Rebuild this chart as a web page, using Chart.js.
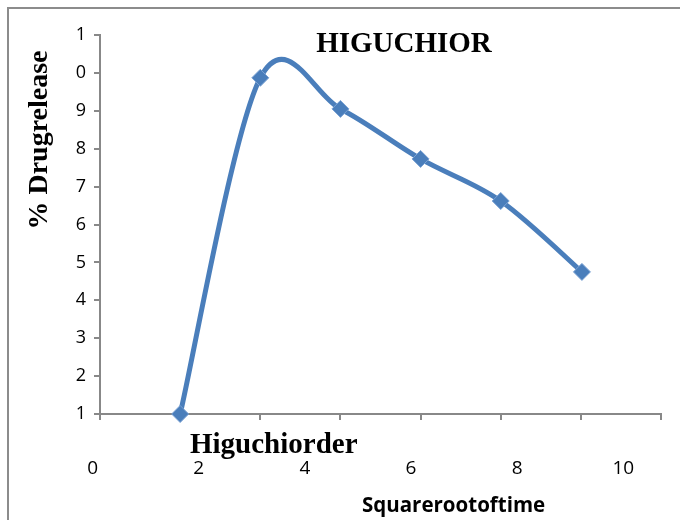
<!DOCTYPE html>
<html>
<head>
<meta charset="utf-8">
<script src="https://cdn.jsdelivr.net/npm/chart.js@4/dist/chart.umd.min.js"></script>
<style>
  html, body { margin: 0; padding: 0; background: #fff; }
</style>
</head>
<body>
<canvas id="chartCanvas" width="680" height="520"></canvas>
<script>
// sqrt(time) vs % drug release
const xValues = [1.65, 3.16, 4.67, 6.18, 7.69, 9.22];
const yValues = [1.0, 9.87, 9.05, 7.73, 6.62, 4.75];
const xTickLabels = [0, 2, 4, 6, 8, 10];
const yTickLabels = ['1', '2', '3', '4', '5', '6', '7', '8', '9', '0', '1'];

const titleText = 'HIGUCHIOR';
const seriesText = 'Higuchiorder';
const xTitle = 'Squarerootoftime';
const yTitle = '% Drugrelease';

const axisGray = '#888888';
const lineBlue = '#4A7EBB';

// smoothing like a spreadsheet "smoothed line": control points at 1/6 of the neighbour chord
const smoothLine = {
    id: 'smoothLine',
    beforeDatasetDraw(chart, args) {
        const pts = args.meta.data;
        args.meta.dataset.updateControlPoints(chart.chartArea, 'x');
        pts.forEach((p, i) => {
            const prev = pts[Math.max(i - 1, 0)];
            const next = pts[Math.min(i + 1, pts.length - 1)];
            const dx = (next.x - prev.x) / 6;
            const dy = (next.y - prev.y) / 6;
            p.cp1x = p.x - dx;
            p.cp1y = p.y - dy;
            p.cp2x = p.x + dx;
            p.cp2y = p.y + dy;
        });
    }
};

const chartText = {
    id: 'chartText',
    beforeDraw(chart) {
        const ctx = chart.ctx;
        ctx.save();
        ctx.fillStyle = '#fff';
        ctx.fillRect(0, 0, chart.width, chart.height);
        // outer frame
        ctx.strokeStyle = '#8c8c8c';
        ctx.lineWidth = 2;
        ctx.beginPath();
        ctx.moveTo(8, chart.height);
        ctx.lineTo(8, 8);
        ctx.lineTo(chart.width, 8);
        ctx.stroke();
        ctx.restore();
    },
    afterDraw(chart) {
        const ctx = chart.ctx;
        ctx.save();
        ctx.fillStyle = '#000';
        ctx.textBaseline = 'alphabetic';

        ctx.font = 'bold 29px "Liberation Serif"';
        ctx.textAlign = 'center';
        ctx.fillText(titleText, 404, 52);

        ctx.font = 'bold 29px "Liberation Serif"';
        ctx.textAlign = 'left';
        ctx.fillText(seriesText, 190, 453);

        ctx.font = 'bold 20.5px "Open Sans"';
        ctx.fillText(xTitle, 362, 512);

        ctx.translate(47, 140);
        ctx.rotate(-Math.PI / 2);
        ctx.textAlign = 'center';
        ctx.font = 'bold 28px "Liberation Serif"';
        ctx.fillText(yTitle, 0, 0);
        ctx.restore();
    }
};

const ctx = document.getElementById('chartCanvas').getContext('2d');
new Chart(ctx, {
    type: 'line',
    data: {
        datasets: [{
            label: seriesText,
            data: xValues.map((x, i) => ({ x: x, y: yValues[i] })),
            xAxisID: 'x',
            yAxisID: 'y',
            borderColor: lineBlue,
            borderWidth: 5,
            tension: 0.5,
            pointStyle: 'rectRot',
            pointRadius: 8.5,
            pointBackgroundColor: lineBlue,
            pointBorderColor: '#7aa2d4',
            pointBorderWidth: 1,
            clip: false
        }]
    },
    options: {
        responsive: false,
        animation: false,
        layout: { padding: { top: 35, right: 19, bottom: 0, left: 0 } },
        plugins: {
            legend: { display: false },
            tooltip: { enabled: false }
        },
        scales: {
            x: {
                type: 'linear',
                position: 'bottom',
                weight: 2,
                min: 0.14,
                max: 10.71,
                border: { display: false },
                grid: { display: false, drawTicks: false },
                afterBuildTicks: s => { s.ticks = xTickLabels.map(v => ({ value: v })); },
                afterFit: s => { s.height = 100; },
                ticks: {
                    font: { family: 'Open Sans', size: 19 },
                    color: '#000',
                    padding: 37,
                    autoSkip: false,
                    maxRotation: 0
                }
            },
            xMarks: {
                type: 'linear',
                position: 'bottom',
                weight: 1,
                min: 0,
                max: 7,
                ticks: { display: false, stepSize: 1 },
                grid: { drawOnChartArea: false, tickLength: 6, color: axisGray, lineWidth: 2 },
                border: { color: axisGray, width: 2 },
                afterFit: s => { s.height = 6; }
            },
            y: {
                min: 1,
                max: 11,
                ticks: {
                    stepSize: 1,
                    callback: (v, i) => yTickLabels[i],
                    font: { family: 'Open Sans', size: 18 },
                    color: '#000',
                    padding: 8
                },
                grid: { drawOnChartArea: false, tickLength: 6, color: axisGray, lineWidth: 2 },
                border: { color: axisGray, width: 2 },
                afterFit: s => { s.width = 100; }
            }
        }
    },
    plugins: [smoothLine, chartText]
});
</script>
</body>
</html>
